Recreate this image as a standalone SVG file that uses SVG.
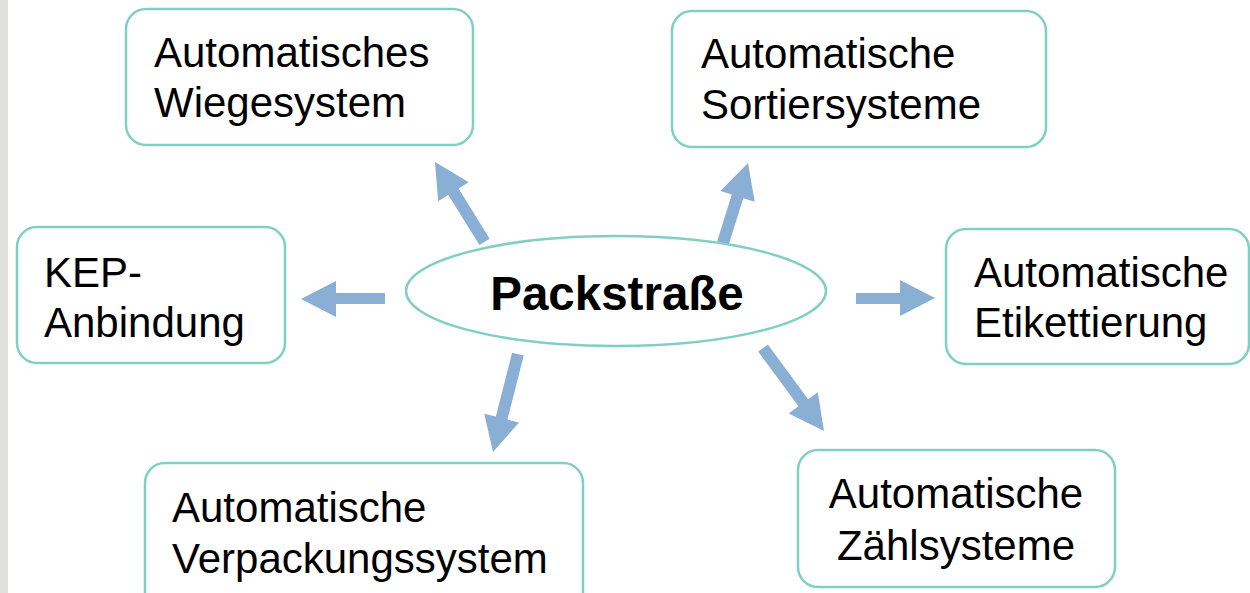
<svg xmlns="http://www.w3.org/2000/svg" width="1250" height="593" viewBox="0 0 1250 593">
<defs>
<style>
.box{fill:#ffffff;stroke:#80d0c2;stroke-width:2.5}
.t{font-family:"Liberation Sans",Arial,sans-serif;font-size:42px;fill:#000000}
.tb{font-family:"Liberation Sans",Arial,sans-serif;font-size:47.5px;font-weight:bold;fill:#000000}
.arr{fill:#8aafd4}
</style>
</defs>
<rect x="0" y="0" width="1250" height="593" fill="#ffffff"/>
<rect x="0" y="0" width="8" height="593" fill="#e0e0dc"/>

<g id="connectors" class="arr">
  <polygon points="385,293 336,293 336,281 301,299 336,317 336,304 385,304"/>
  <polygon points="856,293 900,293 900,280 935,298 900,316 900,304 856,304"/>
  <g transform="translate(435,162) rotate(-121.8)"><polygon points="0,0 -35,-18 -35,-6 -94,-6 -94,6 -35,6 -35,18"/></g>
  <g transform="translate(748,163) rotate(-72.6)"><polygon points="0,0 -35,-18 -35,-6 -84,-6 -84,6 -35,6 -35,18"/></g>
  <g transform="translate(493,452) rotate(104.3)"><polygon points="0,0 -35,-18 -35,-6 -101,-6 -101,6 -35,6 -35,18"/></g>
  <g transform="translate(824,431) rotate(53.7)"><polygon points="0,0 -35,-18 -35,-6 -103,-6 -103,6 -35,6 -35,18"/></g>
</g>

<g id="node-center">
  <ellipse class="box" cx="616" cy="291" rx="210" ry="55"/>
  <text class="tb" x="617" y="310" text-anchor="middle">Packstraße</text>
</g>

<g id="node-wiege">
  <rect class="box" x="126" y="9" width="347" height="136" rx="20"/>
  <text class="t" x="154" y="67">Automatisches</text>
  <text class="t" x="154" y="117">Wiegesystem</text>
</g>

<g id="node-sortier">
  <rect class="box" x="672" y="11" width="374" height="136" rx="20"/>
  <text class="t" x="701" y="68">Automatische</text>
  <text class="t" x="701" y="119">Sortiersysteme</text>
</g>

<g id="node-kep">
  <rect class="box" x="17" y="227" width="268" height="136" rx="20"/>
  <text class="t" x="44" y="287">KEP-</text>
  <text class="t" x="44" y="337">Anbindung</text>
</g>

<g id="node-etikett">
  <rect class="box" x="946" y="229" width="303" height="135" rx="20"/>
  <text class="t" x="974" y="287">Automatische</text>
  <text class="t" x="974" y="337">Etikettierung</text>
</g>

<g id="node-verpack">
  <rect class="box" x="145" y="463" width="438" height="150" rx="20"/>
  <text class="t" x="172" y="522">Automatische</text>
  <text class="t" x="172" y="573">Verpackungssystem</text>
</g>

<g id="node-zaehl">
  <rect class="box" x="798" y="450" width="317" height="137" rx="20"/>
  <text class="t" x="956" y="508" text-anchor="middle">Automatische</text>
  <text class="t" x="956" y="560" text-anchor="middle">Zählsysteme</text>
</g>
</svg>
